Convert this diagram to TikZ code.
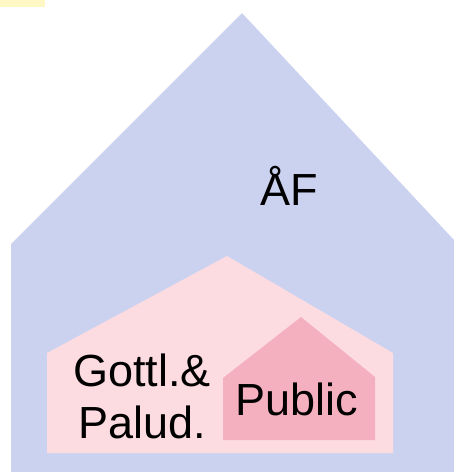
\documentclass[tikz,border=0pt]{standalone}
\usepackage{fontspec}
\setmainfont{Liberation Sans}
\definecolor{bluehouse}{RGB}{203,210,240}
\definecolor{pinklight}{RGB}{252,220,225}
\definecolor{pinkdark}{RGB}{245,176,192}
\definecolor{yellowtag}{RGB}{255,248,196}
\tikzset{
  housefill/.style={line join=round},
  lbl/.style={font=\fontsize{45}{52}\selectfont, text=black, inner sep=0pt, align=center}
}
\begin{document}
\begin{tikzpicture}[x=1pt,y=-1pt]
\useasboundingbox (0,0) rectangle (454,472);
\fill[yellowtag] (0,0) rectangle (45,6.5);
\fill[bluehouse, housefill] (242,13) -- (454,240) -- (454,472) -- (11,472) -- (11,244) -- cycle;
\fill[pinklight, housefill] (227,256) -- (393,353) -- (393,453) -- (47,453) -- (47,353) -- cycle;
\fill[pinkdark, housefill] (301,317) -- (375,377) -- (375,440) -- (223,440) -- (223,378) -- cycle;
\node[lbl, anchor=base] (af) at (289,205) {ÅF};
\node[lbl, anchor=base] (gp) at (142,438) {Gottl.\&\\Palud.};
\node[lbl, anchor=base] (pub) at (297,415) {Public};
\end{tikzpicture}
\end{document}
